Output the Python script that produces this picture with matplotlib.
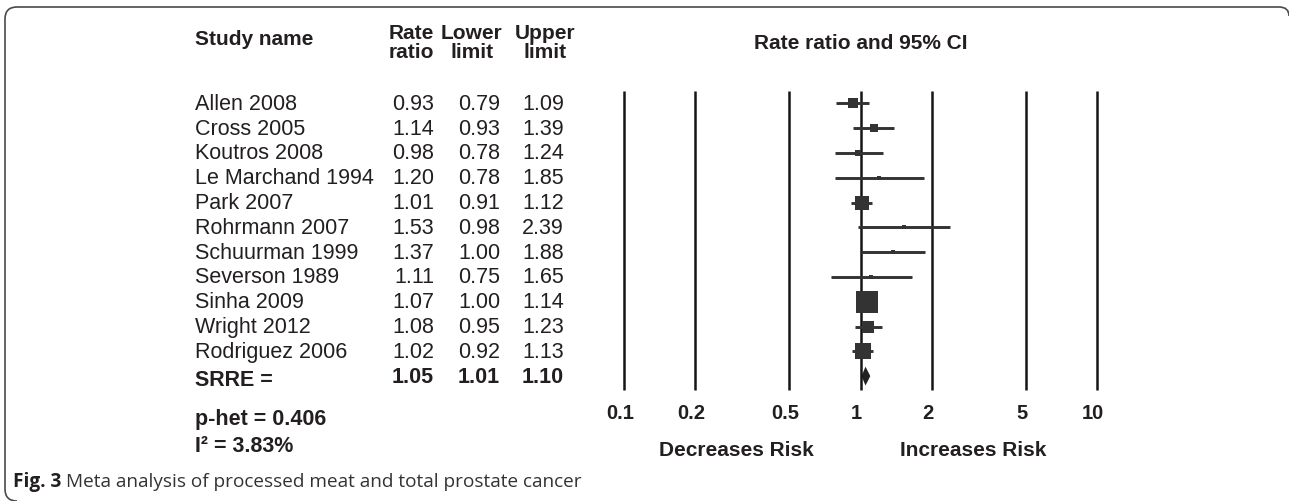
import numpy as np
import matplotlib
matplotlib.use("Agg")
import matplotlib.pyplot as plt
from matplotlib.path import Path
from matplotlib.patches import PathPatch
from matplotlib import transforms
from matplotlib.ticker import NullLocator

studies = ["Allen 2008", "Cross 2005", "Koutros 2008", "Le Marchand 1994",
           "Park 2007", "Rohrmann 2007", "Schuurman 1999", "Severson 1989",
           "Sinha 2009", "Wright 2012", "Rodriguez 2006"]
rate = [0.93, 1.14, 0.98, 1.20, 1.01, 1.53, 1.37, 1.11, 1.07, 1.08, 1.02]
lower = [0.79, 0.93, 0.78, 0.78, 0.91, 0.98, 1.00, 0.75, 1.00, 0.95, 0.92]
upper = [1.09, 1.39, 1.24, 1.85, 1.12, 2.39, 1.88, 1.65, 1.14, 1.23, 1.13]
weight = [7.8, 4.4, 2.8, 1.2, 15.2, 1.2, 1.9, 1.2, 34.2, 10.3, 19.8]  # % (box size)
pooled = [1.05, 1.01, 1.10]
p_het = "0.406"
i2 = "3.83%"
ticks = [0.1, 0.2, 0.5, 1, 2, 5, 10]
tick_labels = ["0.1", "0.2", "0.5", "1", "2", "5", "10"]

W, H = 1289, 502
plt.rcParams["font.family"] = ["Liberation Sans", "DejaVu Sans"]
txt = "#231f20"
fs = 15.5

fig = plt.figure(figsize=(W / 100, H / 100), dpi=100)

# row layout in pixels
r0, dr = 104.3, 24.8
y_top = r0 - 1.5 * dr
y_bot = r0 + 11.9 * dr
ax = fig.add_axes([624 / W, 1 - y_bot / H, 473 / W, (y_bot - y_top) / H])
ax.set_xscale("log")
ax.set_xlim(0.1, 10)
ax.set_ylim(11.9, -1.5)
for s in ax.spines.values():
    s.set_visible(False)
ax.set_yticks([])
ax.xaxis.set_minor_locator(NullLocator())
ax.set_xticks(ticks)
ax.set_xticklabels(tick_labels, fontweight="bold", fontsize=14.5, color=txt)
ax.tick_params(axis="x", length=0, pad=3)
shift = transforms.ScaledTranslation(-4 / 100, 0, fig.dpi_scale_trans)
for lab in ax.get_xticklabels():
    lab.set_transform(lab.get_transform() + shift)

ax.vlines(ticks, -0.5, 11.55, color="#151515", lw=1.8, clip_on=False)

y = np.arange(len(studies))
ax.hlines(y, lower, upper, color="#333333", lw=2.1)
for yi, r, w in zip(y, rate, weight):
    side_px = 3.6 * np.sqrt(w)
    ax.plot(r, yi, "s", ms=side_px * 0.72, color="#333333", mew=0)

yp = len(studies)
h = 0.38
ax.fill([pooled[1], pooled[0], pooled[2], pooled[0]],
        [yp, yp - h, yp, yp + h], color="#222222", lw=0)

ax.text(1, -2.47, "Rate ratio and 95% CI", ha="center", va="center",
        fontsize=15, fontweight="bold", color=txt, clip_on=False)
ax.text(0.3, 13.94, "Decreases Risk", ha="center", va="center",
        fontsize=15, fontweight="bold", color=txt, clip_on=False)
ax.text(3.0, 13.94, "Increases Risk", ha="center", va="center",
        fontsize=15, fontweight="bold", color=txt, clip_on=False)

# table on the left: x in figure pixels, y in row units
bt = transforms.blended_transform_factory(
    transforms.Affine2D().scale(1 / W, 1) + fig.transFigure, ax.transData)
x_name = 195
x_cols = [434, 500, 564]
x_head = [411, 472, 545]

def put(x, yv, s, **kw):
    kw.setdefault("fontsize", fs)
    kw.setdefault("color", txt)
    kw.setdefault("va", "center")
    fig.text(x, yv, s, transform=bt, **kw)

put(x_name, (40 - r0) / dr, "Study name", ha="left", fontweight="bold", fontsize=15)
for xc, a, b in zip(x_head, ["Rate", "Lower", "Upper"], ["ratio", "limit", "limit"]):
    put(xc, (33.5 - r0) / dr, a, ha="center", fontweight="bold", fontsize=15)
    put(xc, (53 - r0) / dr, b, ha="center", fontweight="bold", fontsize=15)

for yi, name, r, lo, up in zip(y, studies, rate, lower, upper):
    put(x_name, yi, name, ha="left")
    for xc, v in zip(x_cols, [r, lo, up]):
        put(xc, yi, f"{v:.2f}", ha="right")

put(x_name, yp + 0.15, "SRRE =", ha="left", fontweight="bold")
for xc, v in zip(x_cols, pooled):
    put(xc, yp, f"{v:.2f}", ha="right", fontweight="bold")
put(x_name, (420 - r0) / dr, f"p-het = {p_het}", ha="left", fontweight="bold")
put(x_name, (446.7 - r0) / dr, f"I\u00b2 = {i2}", ha="left", fontweight="bold")

# caption
cap_y = 1 - 482 / H
t1 = fig.text(13 / W, cap_y, "Fig. 3", fontfamily="Open Sans", fontweight="bold",
              fontsize=13.7, color=txt, va="center")
fig.canvas.draw()
ext = t1.get_window_extent(fig.canvas.get_renderer())
fig.text(ext.x1 / W + 5 / W, cap_y,
         "Meta analysis of processed meat and total prostate cancer",
         fontfamily="Open Sans", fontsize=13.7, color="#333333", va="center")

# frame: top and left edges with rounded corners
pt = transforms.Affine2D().scale(1 / W, -1 / H).translate(0, 1) + fig.transFigure
verts = [(1289, 17), (1289, 8), (1279, 8), (17, 8), (5, 8), (5, 20),
         (5, 490), (5, 502), (17, 502)]
codes = [Path.MOVETO, Path.CURVE3, Path.CURVE3, Path.LINETO, Path.CURVE3,
         Path.CURVE3, Path.LINETO, Path.CURVE3, Path.CURVE3]
fig.patches.append(PathPatch(Path(verts, codes), transform=pt, fill=False,
                             edgecolor="#4a4a4a", lw=1.2))

fig.savefig("out.png", dpi=100)
